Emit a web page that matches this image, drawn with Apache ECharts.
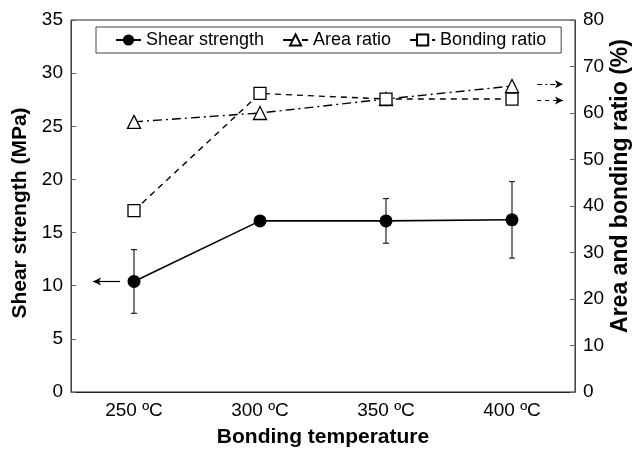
<!DOCTYPE html>
<html>
<head>
<meta charset="utf-8">
<script src="https://cdn.jsdelivr.net/npm/echarts@6/dist/echarts.min.js"></script>
<style>
  html, body { margin: 0; padding: 0; background: #fff; }
  #chart { width: 636px; height: 453px; }
</style>
</head>
<body>
<div id="chart"></div>
<script>
const temps = ['250 ºC', '300 ºC', '350 ºC', '400 ºC']
const shearStrength = [10.4, 16.1, 16.1, 16.2]
const shearLow = [7.4, 16.1, 14.0, 12.6]
const shearHigh = [13.4, 16.1, 18.2, 19.8]
const areaRatio = [58.1, 60.0, 63.0, 65.8]
const bondingRatio = [39.0, 64.2, 63.0, 63.0]

const leftTicks = [0, 5, 10, 15, 20, 25, 30, 35]
const rightTicks = [0, 10, 20, 30, 40, 50, 60, 70, 80]

const font = '"Liberation Sans", Arial, sans-serif'

const chart = echarts.init(document.getElementById('chart'))

const errorData = temps.map((t, i) => [i, shearLow[i], shearHigh[i]])

chart.setOption({
  backgroundColor: '#fff',
  animation: false,
  textStyle: { fontFamily: font },
  grid: {
    left: 71, right: 61, top: 20, bottom: 61,
    outerBoundsMode: 'none', containLabel: false,
    show: true, borderColor: '#222', borderWidth: 1
  },
  legend: {
    top: 27,
    left: 96,
    padding: [4, 15, 4, 19],
    itemGap: 18,
    itemWidth: 25,
    itemHeight: 14,
    borderColor: '#444',
    borderWidth: 1,
    textStyle: { fontFamily: font, fontSize: 18, color: '#000' },
    data: ['Shear strength', 'Area ratio', 'Bonding ratio']
  },
  xAxis: [{
    type: 'category',
    data: temps,
    name: 'Bonding temperature',
    nameLocation: 'middle',
    nameGap: 35,
    nameTextStyle: { fontFamily: font, fontSize: 21, fontWeight: 'bold', color: '#000' },
    axisLine: { lineStyle: { color: '#222' } },
    axisTick: { inside: true, length: 6, lineStyle: { color: '#444' } },
    axisLabel: { fontFamily: font, fontSize: 19, color: '#000', margin: 9 },
    splitLine: { show: false }
  }, {
    type: 'value',
    min: 0,
    max: 4,
    show: false
  }],
  yAxis: [{
    type: 'value',
    min: 0,
    max: 35,
    interval: 5,
    name: 'Shear strength (MPa)',
    nameLocation: 'middle',
    nameGap: 40,
    nameTextStyle: { fontFamily: font, fontSize: 21, fontWeight: 'bold', color: '#000', padding: [0, 14, 0, 0] },
    axisLine: { show: true, lineStyle: { color: '#444' } },
    axisTick: { show: true, inside: true, length: 5, lineStyle: { color: '#666' } },
    axisLabel: { fontFamily: font, fontSize: 19, color: '#000', margin: 8,
      formatter: v => leftTicks.includes(v) ? String(v) : '' },
    splitLine: { show: false }
  }, {
    type: 'value',
    min: 0,
    max: 80,
    interval: 10,
    name: 'Area and bonding ratio (%)',
    nameLocation: 'middle',
    nameGap: 34,
    nameMoveOverlap: false,
    nameRotate: 90,
    nameTextStyle: { fontFamily: font, fontSize: 23, fontWeight: 'bold', color: '#000', padding: [0, 0, 0, 40] },
    axisLine: { show: true, lineStyle: { color: '#444' } },
    axisTick: { show: true, inside: true, length: 5, lineStyle: { color: '#666' } },
    axisLabel: { fontFamily: font, fontSize: 19, color: '#000', margin: 8,
      formatter: v => rightTicks.includes(v) ? String(v) : '' },
    splitLine: { show: false }
  }],
  series: [
    {
      name: 'error',
      type: 'custom',
      yAxisIndex: 0,
      data: errorData,
      z: 1,
      renderItem: (params, api) => {
        const lo = api.coord([api.value(0), api.value(1)])
        const hi = api.coord([api.value(0), api.value(2)])
        const style = { stroke: '#222', lineWidth: 1.2 }
        return {
          type: 'group',
          children: [
            { type: 'line', shape: { x1: lo[0], y1: lo[1], x2: hi[0], y2: hi[1] }, style },
            { type: 'line', shape: { x1: lo[0] - 3, y1: lo[1], x2: lo[0] + 3, y2: lo[1] }, style },
            { type: 'line', shape: { x1: hi[0] - 3, y1: hi[1], x2: hi[0] + 3, y2: hi[1] }, style }
          ]
        }
      }
    },
    {
      name: 'Shear strength',
      type: 'line',
      yAxisIndex: 0,
      data: shearStrength,
      symbol: 'circle',
      symbolSize: 13,
      z: 3,
      itemStyle: { color: '#000' },
      lineStyle: { color: '#000', width: 1.6 }
    },
    {
      name: 'Area ratio',
      type: 'line',
      yAxisIndex: 1,
      data: areaRatio,
      symbol: 'triangle',
      symbolSize: 13,
      z: 3,
      itemStyle: { color: '#fff', borderColor: '#000', borderWidth: 1.3 },
      lineStyle: { color: '#000', width: 1.4, type: [9, 4, 2, 4] }
    },
    {
      name: 'Bonding ratio',
      type: 'line',
      yAxisIndex: 1,
      data: bondingRatio,
      symbol: 'rect',
      symbolSize: 12,
      z: 3,
      itemStyle: { color: '#fff', borderColor: '#000', borderWidth: 1.3 },
      lineStyle: { color: '#000', width: 1.4, type: [6, 5] }
    },
    {
      name: 'arrowsLeft',
      type: 'line',
      xAxisIndex: 1,
      yAxisIndex: 0,
      data: [],
      markLine: {
        silent: true,
        symbol: ['none', 'arrow'],
        symbolSize: [6, 8],
        label: { show: false },
        lineStyle: { color: '#000', width: 1.2, type: 'solid' },
        data: [[{ coord: [0.39, shearStrength[0]] }, { coord: [0.175, shearStrength[0]] }]]
      }
    },
    {
      name: 'arrowsRight',
      type: 'line',
      xAxisIndex: 1,
      yAxisIndex: 1,
      data: [],
      markLine: {
        silent: true,
        symbol: ['none', 'arrow'],
        symbolSize: [6, 8],
        label: { show: false },
        lineStyle: { color: '#000', width: 1.2 },
        data: [
          [{ coord: [3.7, 66.2], lineStyle: { type: [5, 3, 2, 3] } }, { coord: [3.905, 66.2] }],
          [{ coord: [3.7, 62.7], lineStyle: { type: [4, 4] } }, { coord: [3.905, 62.7] }]
        ]
      }
    }
  ]
})
</script>
</body>
</html>
